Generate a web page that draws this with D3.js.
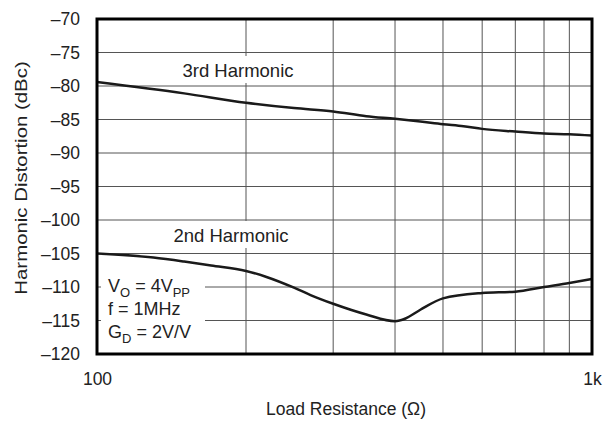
<!DOCTYPE html>
<html>
<head>
<meta charset="utf-8">
<script src="https://cdn.jsdelivr.net/npm/d3@7"></script>
<style>
body { margin: 0; background: #fff; }
text { font-family: "Liberation Sans", Arial, sans-serif; fill: #222; }
</style>
</head>
<body>
<script>
// load resistance (ohm) and distortion (dBc)
var load3 = [100, 150, 200, 250, 300, 350, 400, 450, 500, 550, 600, 700, 800, 900, 1000];
var harm3 = [-79.4, -81.1, -82.5, -83.3, -83.8, -84.5, -84.9, -85.3, -85.7, -86.0, -86.4, -86.8, -87.1, -87.2, -87.4];

var load2 = [100, 130, 150, 170, 200, 220, 250, 270, 300, 350, 400, 420, 450, 500, 600, 700, 800, 900, 1000];
var harm2 = [-105.0, -105.6, -106.2, -106.8, -107.6, -108.5, -110.1, -111.2, -112.5, -114.1, -115.1, -114.7, -113.4, -111.7, -110.9, -110.7, -110.0, -109.4, -108.8];

var yTicks = [-70, -75, -80, -85, -90, -95, -100, -105, -110, -115, -120];
var xGrid = [200, 300, 400, 500, 600, 700, 800, 900];
var xTicks = [100, 1000];
var xTickLabels = ["100", "1k"];

var svg = d3.select("body").append("svg")
        .attr("width", 603)
        .attr("height", 422);

var margin = {top: 19, right: 11, bottom: 68, left: 97};
var width = 603 - margin.left - margin.right;
var height = 422 - margin.top - margin.bottom;

var x = d3.scaleLog().domain([100, 1000]).range([0, width]);
var y = d3.scaleLinear().domain([-70, -120]).range([0, height]);

var g = svg.append("g")
        .attr("transform", "translate(" + margin.left + "," + margin.top + ")");

// grid
g.append("g").selectAll("line")
    .data(yTicks.slice(1, -1))
    .enter().append("line")
    .attr("x1", 0).attr("x2", width)
    .attr("y1", function(d) { return y(d); })
    .attr("y2", function(d) { return y(d); })
    .attr("stroke", "#555")
    .attr("stroke-width", 1);

g.append("g").selectAll("line")
    .data(xGrid)
    .enter().append("line")
    .attr("x1", function(d) { return x(d); })
    .attr("x2", function(d) { return x(d); })
    .attr("y1", 0).attr("y2", height)
    .attr("stroke", "#555")
    .attr("stroke-width", 1);

// axes (labels only)
var yaxis = g.append("g")
    .call(d3.axisLeft(y).tickValues(yTicks).tickSize(0).tickPadding(17)
        .tickFormat(function(d) { return String(d).replace("-", "\u2013"); }));
yaxis.select(".domain").remove();
yaxis.selectAll("text").attr("font-size", 17.5).attr("font-family", null).attr("fill", "#222");

var xaxis = g.append("g")
    .attr("transform", "translate(0," + height + ")")
    .call(d3.axisBottom(x).tickValues(xTicks).tickSize(0).tickPadding(19)
        .tickFormat(function(d, i) { return xTickLabels[i]; }));
xaxis.select(".domain").remove();
xaxis.selectAll("text").attr("font-size", 17.5).attr("font-family", null).attr("fill", "#222");

// curve labels with white background
function curveLabel(cx, baseline, txt) {
    var lg = g.append("g");
    var t = lg.append("text")
        .attr("x", cx - margin.left)
        .attr("y", baseline - margin.top)
        .attr("text-anchor", "middle")
        .attr("font-size", 18.5)
        .text(txt);
    var b = t.node().getBBox();
    lg.insert("rect", "text")
        .attr("x", b.x - 4).attr("y", b.y - 4)
        .attr("width", b.width + 8).attr("height", b.height + 6)
        .attr("fill", "#fff");
}
curveLabel(238, 77, "3rd Harmonic");
curveLabel(231, 242, "2nd Harmonic");

// conditions box
var note = g.append("g");
note.append("rect")
    .attr("x", 4).attr("y", 239)
    .attr("width", 104).attr("height", 94)
    .attr("fill", "#fff");
var t1 = note.append("text").attr("x", 11).attr("y", 272.5).attr("font-size", 18);
t1.append("tspan").text("V");
t1.append("tspan").attr("dy", 5).attr("font-size", 13).text("O");
t1.append("tspan").attr("dy", -5).text(" = 4V");
t1.append("tspan").attr("dy", 5).attr("font-size", 13).text("PP");
note.append("text").attr("x", 11).attr("y", 295.5).attr("font-size", 18).text("f = 1MHz");
var t3 = note.append("text").attr("x", 11).attr("y", 319).attr("font-size", 18);
t3.append("tspan").text("G");
t3.append("tspan").attr("dy", 5).attr("font-size", 13).text("D");
t3.append("tspan").attr("dy", -5).text(" = 2V/V");

// curves
var line = d3.line()
    .x(function(d) { return x(d[0]); })
    .y(function(d) { return y(d[1]); })
    .curve(d3.curveMonotoneX);

g.append("path")
    .datum(d3.zip(load3, harm3))
    .attr("fill", "none")
    .attr("stroke", "#1a1a1a")
    .attr("stroke-width", 2.5)
    .attr("stroke-linejoin", "round")
    .attr("d", line);

g.append("path")
    .datum(d3.zip(load2, harm2))
    .attr("fill", "none")
    .attr("stroke", "#1a1a1a")
    .attr("stroke-width", 2.5)
    .attr("stroke-linejoin", "round")
    .attr("d", line);

// frame
g.append("rect")
    .attr("x", 0).attr("y", 0)
    .attr("width", width).attr("height", height)
    .attr("fill", "none")
    .attr("stroke", "#000")
    .attr("stroke-width", 3);

// axis titles
svg.append("text")
    .attr("x", 346)
    .attr("y", 415)
    .attr("text-anchor", "middle")
    .attr("font-size", 17.5)
    .text("Load Resistance (\u03A9)");

svg.append("text")
    .attr("transform", "translate(27,178) rotate(-90) scale(1.2,1)")
    .attr("text-anchor", "middle")
    .attr("font-size", 17)
    .text("Harmonic Distortion (dBc)");
</script>
</body>
</html>
